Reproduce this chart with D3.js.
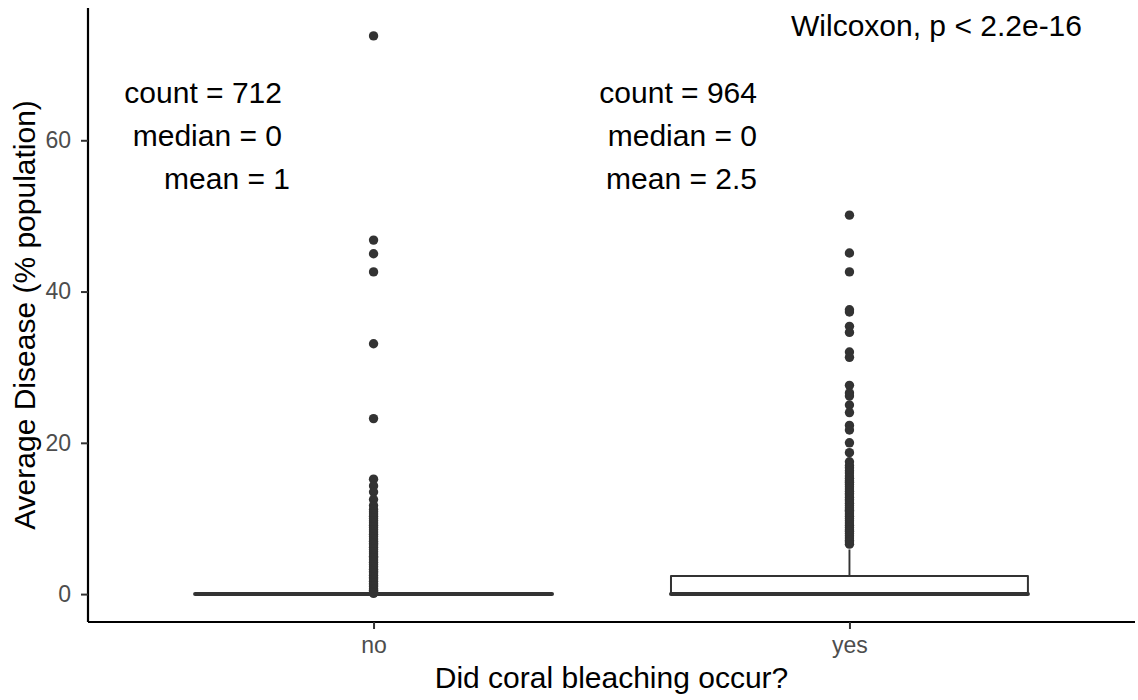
<!DOCTYPE html>
<html>
<head>
<meta charset="utf-8">
<script src="https://cdn.jsdelivr.net/npm/d3@7"></script>
<style>
  html, body { margin: 0; padding: 0; background: #ffffff; }
  svg { display: block; font-family: "Liberation Sans", Arial, sans-serif; }
</style>
</head>
<body>
<svg id="chart" width="1138" height="700"></svg>
<script>
// Groups on the x axis
const categories = ["no", "yes"];

// Box summaries per group (% population)
const q1 = [0, 0];
const medians = [0, 0];
const q3 = [0, 2.4];
const whiskerLow = [0, 0];
const whiskerHigh = [0, 5.9];

// Outlying sites per group (% population)
const outliersNo = [
  73.8, 46.8, 45.0, 42.6, 33.1, 23.2,
  15.2, 14.3, 13.5, 12.5,
  11.7, 11.2, 10.9, 10.6, 10.3, 10.0, 9.7, 9.4, 9.1, 8.8, 8.5, 8.2,
  7.9, 7.6, 7.3, 7.0, 6.7, 6.5, 6.2, 5.9, 5.6, 5.3, 5.0, 4.8, 4.5,
  4.2, 3.9, 3.6, 3.3, 3.0, 2.8, 2.5, 2.2, 2.0, 1.7, 1.4, 1.2, 1.0,
  0.7, 0.5, 0.3, 0.1
];
const outliersYes = [
  50.1, 45.1, 42.6, 37.6, 37.3, 35.4, 34.6, 32.0, 31.3,
  27.6, 26.6, 26.2, 25.0, 24.0, 22.3, 21.7, 20.0, 18.7, 17.5,
  17.0, 16.7, 16.3, 16.0, 15.6, 15.3, 15.0, 14.8, 14.5, 14.2, 13.9,
  13.6, 13.3, 13.1, 12.8, 12.5, 12.3, 12.0, 11.7, 11.4, 11.1, 10.9,
  10.6, 10.3, 10.0, 9.7, 9.4, 9.1, 8.8, 8.5, 8.3, 8.0, 7.7, 7.4,
  7.1, 6.9, 6.6
];
const outliers = [outliersNo, outliersYes];

// Per-group annotation lines
const countLabels = ["count = 712", "count = 964"];
const medianLabels = ["median = 0", "median = 0"];
const meanLabels = ["mean = 1", "mean = 2.5"];
const testLabel = "Wilcoxon, p < 2.2e-16";

const yTicks = [0, 20, 40, 60];
const xTitle = "Did coral bleaching occur?";
const yTitle = "Average Disease (% population)";

// ---- layout ----
const svg = d3.select("#chart");
const panel = { left: 88, right: 1135, top: 8, bottom: 622 };
const ink = "#333333";
const bigFont = "30px";
const tickFont = "23px";

// ggplot-style expansion: 5% on a continuous axis, 0.6 units on a discrete one
const allValues = outliers.flat().concat(q3, whiskerHigh);
const yMax = d3.max(allValues), yMin = 0;
const pad = (yMax - yMin) * 0.05;
const y = d3.scaleLinear()
  .domain([yMin - pad, yMax + pad])
  .range([panel.bottom, panel.top]);

const xPos = d3.scaleLinear()
  .domain([0.4, categories.length + 0.6])
  .range([panel.left, panel.right]);
const x = d3.scaleOrdinal()
  .domain(categories)
  .range(categories.map((c, i) => xPos(i + 1)));
const boxWidth = (xPos(2) - xPos(1)) * 0.75;

// ---- boxes ----
const groups = categories.map((c, i) => ({
  cat: c, q1: q1[i], med: medians[i], q3: q3[i],
  lo: whiskerLow[i], hi: whiskerHigh[i], out: outliers[i]
}));

const g = svg.append("g");

groups.forEach(d => {
  const cx = x(d.cat);
  // whiskers
  g.append("line")
    .attr("x1", cx).attr("x2", cx)
    .attr("y1", y(d.q3)).attr("y2", y(d.hi))
    .attr("stroke", ink).attr("stroke-width", 1.9);
  g.append("line")
    .attr("x1", cx).attr("x2", cx)
    .attr("y1", y(d.q1)).attr("y2", y(d.lo))
    .attr("stroke", ink).attr("stroke-width", 1.9);
  // outlier points
  g.selectAll(null)
    .data(d.out)
    .join("circle")
    .attr("cx", cx)
    .attr("cy", v => y(v))
    .attr("r", 4.7)
    .attr("fill", ink);
  // box
  g.append("rect")
    .attr("x", cx - boxWidth / 2)
    .attr("y", y(d.q3))
    .attr("width", boxWidth)
    .attr("height", Math.max(0, y(d.q1) - y(d.q3)))
    .attr("fill", "#ffffff")
    .attr("stroke", ink)
    .attr("stroke-width", 2)
    .attr("stroke-linejoin", "round");
  // median
  g.append("line")
    .attr("x1", cx - boxWidth / 2).attr("x2", cx + boxWidth / 2)
    .attr("y1", y(d.med)).attr("y2", y(d.med))
    .attr("stroke", ink).attr("stroke-width", 4)
    .attr("stroke-linecap", "round");
});

// ---- axes ----
const yAxis = d3.axisLeft(y).tickValues(yTicks).tickSize(7).tickPadding(10);
const yg = svg.append("g")
  .attr("transform", `translate(${panel.left},0)`)
  .call(yAxis);
yg.select(".domain").attr("d", `M0,${panel.top}V${panel.bottom}`);

const xAxis = d3.axisBottom(xPos).tickValues([1, 2])
  .tickFormat((d) => categories[d - 1]).tickSize(7).tickPadding(8);
const xg = svg.append("g")
  .attr("transform", `translate(0,${panel.bottom})`)
  .call(xAxis);
xg.select(".domain").attr("d", `M${panel.left},0H${panel.right}`);

[yg, xg].forEach(a => {
  a.select(".domain").attr("stroke", "#000000").attr("stroke-width", 2.2);
  a.selectAll(".tick line").attr("stroke", ink).attr("stroke-width", 2);
  a.selectAll(".tick text")
    .attr("fill", "#4D4D4D")
    .style("font-size", tickFont)
    .style("font-family", "'Liberation Sans', Arial, sans-serif");
});

// ---- titles ----
svg.append("text")
  .attr("x", (panel.left + panel.right) / 2)
  .attr("y", 688)
  .attr("text-anchor", "middle")
  .style("font-size", bigFont)
  .attr("fill", "#000000")
  .text(xTitle);

svg.append("text")
  .attr("transform", `translate(35,${(panel.top + panel.bottom) / 2}) rotate(-90)`)
  .attr("text-anchor", "middle")
  .style("font-size", bigFont)
  .attr("fill", "#000000")
  .text(yTitle);

// ---- annotations ----
const noteRight = [[282, 282, 290], [757, 757, 757]];
const noteY = [103, 146, 189];
categories.forEach((c, i) => {
  [countLabels[i], medianLabels[i], meanLabels[i]].forEach((t, k) => {
    svg.append("text")
      .attr("x", noteRight[i][k])
      .attr("y", noteY[k])
      .attr("text-anchor", "end")
      .style("font-size", bigFont)
      .attr("fill", "#000000")
      .text(t);
  });
});

svg.append("text")
  .attr("x", 1082)
  .attr("y", 36)
  .attr("text-anchor", "end")
  .style("font-size", bigFont)
  .attr("fill", "#000000")
  .text(testLabel);
</script>
</body>
</html>
